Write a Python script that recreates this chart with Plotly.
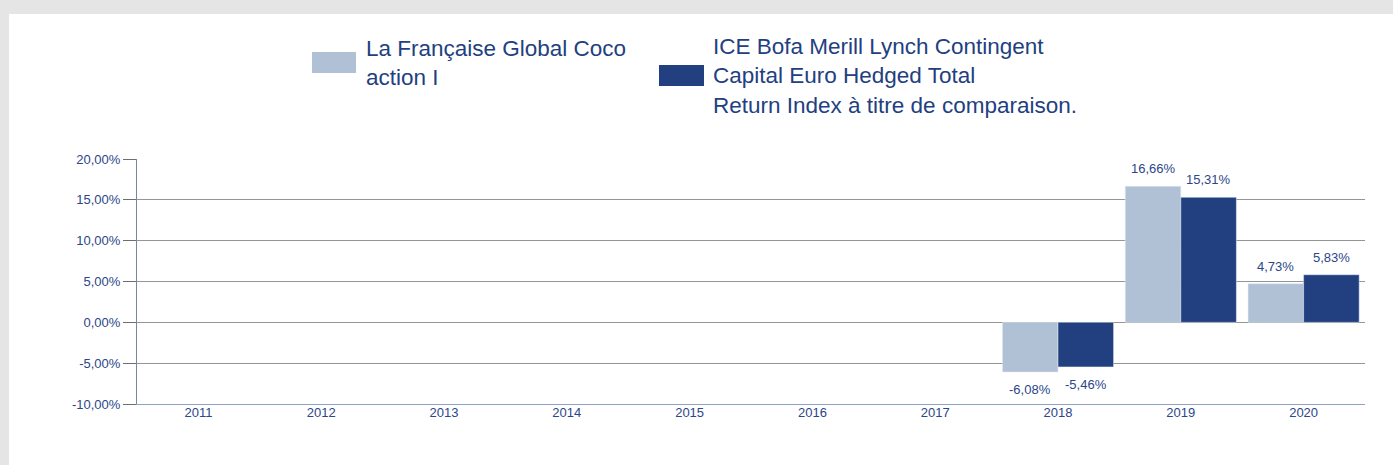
import plotly.graph_objects as go

years = ["2011", "2012", "2013", "2014", "2015", "2016", "2017", "2018", "2019", "2020"]
fund = [None, None, None, None, None, None, None, -6.08, 16.66, 4.73]
index = [None, None, None, None, None, None, None, -5.46, 15.31, 5.83]
y_ticks = [-10, -5, 0, 5, 10, 15, 20]
y_tick_labels = ["-10,00%", "-5,00%", "0,00%", "5,00%", "10,00%", "15,00%", "20,00%"]
fund_name = "La Française Global Coco<br>action I"
index_name = "ICE Bofa Merill Lynch Contingent<br>Capital Euro Hedged Total<br>Return Index à titre de comparaison."

W, H = 1393, 465
L, R, T, B = 137, 28, 159, 61
PW, PH = W - L - R, H - T - B
BARGAP = 0.095

def px(x):
    return (x - L) / PW

def py(y):
    return 1 - (y - T) / PH

LIGHT = "#b0c1d6"
DARK = "#223f7f"
TXT = "#2b4689"
LEG = "#233f80"
FONT = "Liberation Sans, Arial, sans-serif"

fig = go.Figure()
fig.add_trace(go.Bar(x=years, y=fund, name="fund", marker_color=LIGHT))
fig.add_trace(go.Bar(x=years, y=index, name="index", marker_color=DARK))

# value labels above/below each bar, offset half a bar width from the category centre
cat_px = PW / len(years)
half_bar = cat_px * (1 - BARGAP) / 4
annotations = []
for series, sign in ((fund, -1), (index, 1)):
    for i, v in enumerate(series):
        if v is None:
            continue
        annotations.append(dict(
            x=i, y=v, xref="x", yref="y", showarrow=False,
            text=f"{v:.2f}%".replace(".", ","),
            xshift=sign * half_bar, yshift=17.5 if v >= 0 else -17.5,
            xanchor="center", yanchor="middle",
            font=dict(size=13, color=TXT, family=FONT)))

shapes = [
    dict(type="rect", xref="paper", yref="paper", x0=px(0), x1=px(W), y0=py(0), y1=py(14),
         fillcolor="#e5e5e5", line_width=0, layer="below"),
    dict(type="rect", xref="paper", yref="paper", x0=px(0), x1=px(9), y0=py(0), y1=py(H),
         fillcolor="#e5e5e5", line_width=0, layer="below"),
    dict(type="rect", xref="paper", yref="paper", x0=px(312), x1=px(356), y0=py(52), y1=py(73),
         fillcolor=LIGHT, line_width=0),
    dict(type="rect", xref="paper", yref="paper", x0=px(659), x1=px(704), y0=py(65), y1=py(86),
         fillcolor=DARK, line_width=0),
]
annotations += [
    dict(xref="paper", yref="paper", x=px(364), y=py(63), xanchor="left", yanchor="middle",
         align="left", showarrow=False, text=fund_name, font=dict(size=22.5, color=LEG, family=FONT)),
    dict(xref="paper", yref="paper", x=px(711), y=py(76), xanchor="left", yanchor="middle",
         align="left", showarrow=False, text=index_name, font=dict(size=22.5, color=LEG, family=FONT)),
]

fig.update_layout(
    width=W, height=H,
    margin=dict(l=L, r=R, t=T, b=B),
    paper_bgcolor="white", plot_bgcolor="white",
    barmode="group", bargap=BARGAP, bargroupgap=0,
    showlegend=False,
    separators=", ",
    font=dict(family=FONT, size=13, color=TXT),
    shapes=shapes, annotations=annotations,
    xaxis=dict(type="category", categoryorder="array", categoryarray=years,
               range=[-0.5, len(years) - 0.5], autorange=False,
               showline=True, linecolor="#8fa3c8", linewidth=1,
               showgrid=False, ticks="", ticklabelstandoff=-4,
               tickfont=dict(size=13, color=TXT)),
    yaxis=dict(range=[-10, 20], autorange=False, tickmode="array",
               tickvals=y_ticks, ticktext=y_tick_labels,
               showline=True, linecolor="#7b84a5", linewidth=1,
               showgrid=True, gridcolor="#959595", gridwidth=1, zeroline=False,
               ticks="outside", ticklen=13, tickcolor="#6e6e6e",
               tickfont=dict(size=13, color=TXT)),
)

fig.write_html("out.html", config={"displayModeBar": False},
               post_script="document.body.style.margin='0px';document.body.style.overflow='hidden';")
